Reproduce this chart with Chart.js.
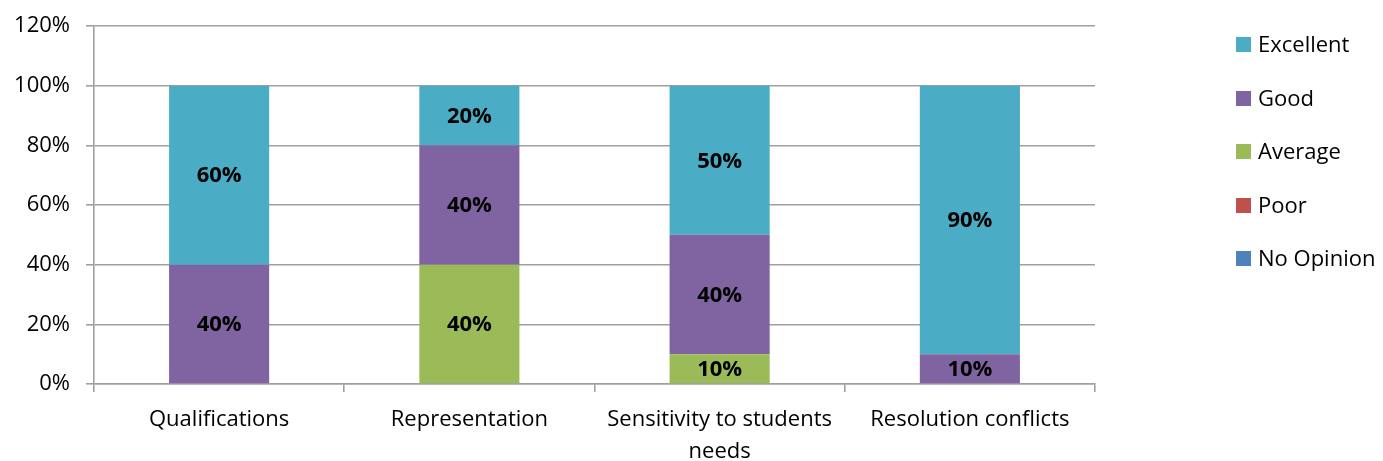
<!DOCTYPE html>
<html>
<head>
<meta charset="utf-8">
<script src="https://cdn.jsdelivr.net/npm/chart.js@4/dist/chart.umd.min.js"></script>
<style>
  html, body { margin: 0; padding: 0; background: #fff; }
</style>
</head>
<body>
<canvas id="myChart" width="1383" height="461"></canvas>
<script>
const categories = ['Qualifications', 'Representation', ['Sensitivity to students', 'needs'], 'Resolution conflicts'];
const excellent = [60, 20, 50, 90];
const good = [40, 40, 40, 10];
const average = [0, 40, 10, 0];
const poor = [0, 0, 0, 0];
const noOpinion = [0, 0, 0, 0];
const yTicks = [0, 20, 40, 60, 80, 100, 120];

const FONT = '"Open Sans", sans-serif';
const AXIS = '#a0a0a0';

// percentage labels in the middle of each segment
const barLabels = {
  id: 'barLabels',
  afterDatasetsDraw(chart) {
    const ctx = chart.ctx;
    ctx.save();
    ctx.font = 'bold 22px ' + FONT;
    ctx.fillStyle = '#000';
    ctx.textAlign = 'center';
    ctx.textBaseline = 'middle';
    chart.data.datasets.forEach(function(ds, i) {
      chart.getDatasetMeta(i).data.forEach(function(bar, j) {
        if (!ds.data[j]) return;
        ctx.fillText(ds.data[j] + '%', bar.x, (bar.y + bar.base) / 2 + 1);
      });
    });
    ctx.restore();
  }
};

// legend on the right, top series first
const sideLegend = {
  id: 'sideLegend',
  afterDraw(chart) {
    const ctx = chart.ctx;
    const sets = chart.data.datasets.slice().reverse();
    ctx.save();
    ctx.font = '22px ' + FONT;
    ctx.textBaseline = 'middle';
    sets.forEach(function(ds, i) {
      const y = 44.5 + i * 53.5;
      ctx.fillStyle = ds.backgroundColor;
      ctx.fillRect(1236, Math.round(y - 7.5), 15, 15);
      ctx.fillStyle = '#000';
      ctx.fillText(ds.label, 1258, y + 1.5);
    });
    ctx.restore();
  }
};

const ctx = document.getElementById('myChart').getContext('2d');
const chart = new Chart(ctx, {
  type: 'bar',
  data: {
    labels: categories,
    datasets: [
      { label: 'No Opinion', data: noOpinion, backgroundColor: '#4F81BD' },
      { label: 'Poor', data: poor, backgroundColor: '#C0504D' },
      { label: 'Average', data: average, backgroundColor: '#9BBB59' },
      { label: 'Good', data: good, backgroundColor: '#8064A2' },
      { label: 'Excellent', data: excellent, backgroundColor: '#4BACC6' }
    ]
  },
  options: {
    responsive: false,
    animation: false,
    layout: { padding: { top: 26, right: 288, left: 0, bottom: 0 } },
    datasets: {
      bar: { categoryPercentage: 1, barPercentage: 0.4, borderWidth: 0 }
    },
    plugins: {
      legend: { display: false },
      tooltip: { enabled: false }
    },
    scales: {
      x: {
        stacked: true,
        grid: { offset: true, drawOnChartArea: false, drawTicks: true, tickLength: 8, color: AXIS, lineWidth: 1.6 },
        border: { color: AXIS, width: 1.6 },
        ticks: { color: '#000', font: { family: FONT, size: 22, lineHeight: 1.45 }, padding: 12, maxRotation: 0, autoSkip: false },
        afterFit(s) { s.height = 77; s.paddingLeft = 0; s.paddingRight = 0; }
      },
      y: {
        stacked: true,
        min: 0,
        max: 120,
        grid: { color: AXIS, tickLength: 8, lineWidth: 1.6 },
        border: { color: AXIS, width: 1.6 },
        ticks: {
          color: '#000',
          font: { family: FONT, size: 22 },
          padding: 16,
          callback: function(v) { return v + '%'; }
        },
        afterBuildTicks(s) { s.ticks = yTicks.map(function(v) { return { value: v }; }); },
        afterFit(s) { s.width = 94; s.paddingTop = 0; s.paddingBottom = 0; }
      }
    }
  },
  plugins: [barLabels, sideLegend]
});
</script>
</body>
</html>
